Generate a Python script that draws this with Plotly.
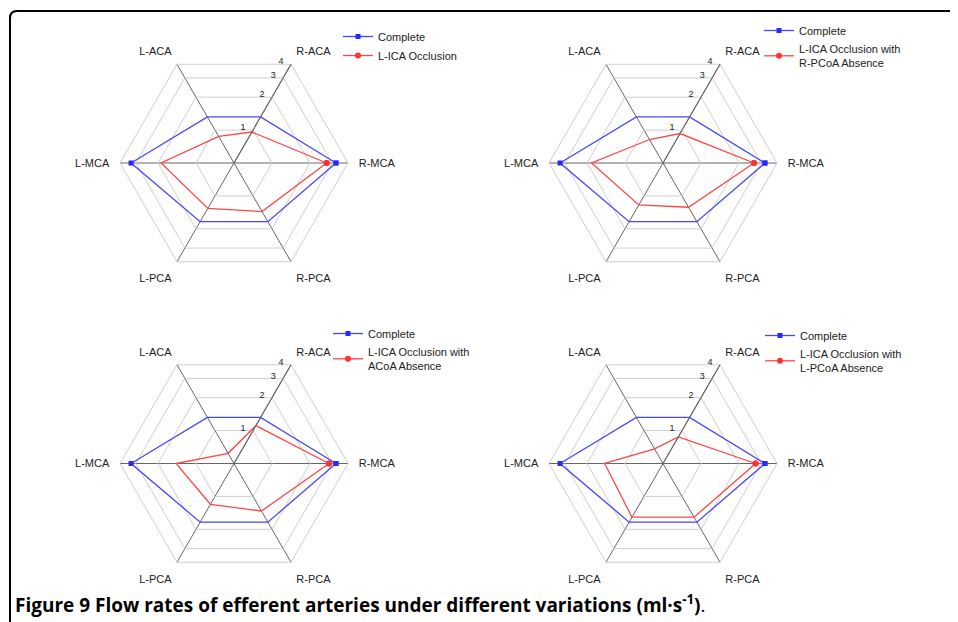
import numpy as np
import plotly.graph_objects as go

categories = ["R-MCA", "R-ACA", "L-ACA", "L-MCA", "L-PCA", "R-PCA"]
radial_ticks = [1, 2, 3, 4]

complete = [3.21, 1.32, 1.32, 3.27, 1.72, 1.72]
lica_occlusion = [2.71, 0.96, 0.875, 1.89, 1.30, 1.39]
lica_rpcoa = [2.63, 0.93, 0.82, 1.84, 1.21, 1.27]
lica_acoa = [2.83, 1.11, 0.62, 1.44, 1.18, 1.36]
lica_lpcoa = [2.71, 0.875, 0.68, 1.45, 1.55, 1.55]

variant_names = [
    "L-ICA Occlusion",
    "L-ICA Occlusion with<br>R-PCoA Absence",
    "L-ICA Occlusion with<br>ACoA Absence",
    "L-ICA Occlusion with<br>L-PCoA Absence",
]
variants = [lica_occlusion, lica_rpcoa, lica_acoa, lica_lpcoa]

# the page body has an 8px margin: size the figure so it fills the window
OFF = 8
W, H = 958 - OFF, 622 - OFF
BLUE = "rgb(70,70,255)"
RED = "rgb(255,70,70)"
FONT = "Liberation Sans, Arial, sans-serif"

# polar centres (window px) and radius
centres = [(234, 163), (663, 163), (234, 463.5), (663, 463.5)]
R = 114
legend_pos = [(338, 22), (759, 16), (328, 319), (760, 321)]

fig = go.Figure()

def closed(v):
    return list(v) + [v[0]]

def px(x):
    return (x - OFF) / W

def py(y):
    return 1 - (y - OFF) / H

for i in range(4):
    pname = "polar" if i == 0 else f"polar{i+1}"
    sub = pname
    lg = "legend" if i == 0 else f"legend{i+1}"
    fig.add_trace(go.Scatterpolar(
        r=closed(complete), theta=closed(categories), mode="lines+markers",
        name="Complete", subplot=sub, legend=lg,
        line=dict(color=BLUE, width=1.3),
        marker=dict(symbol="square", size=5, color="rgb(40,40,255)"),
    ))
    fig.add_trace(go.Scatterpolar(
        r=closed(variants[i]), theta=closed(categories), mode="lines+markers",
        name=variant_names[i], subplot=sub, legend=lg,
        line=dict(color=RED, width=1.3),
        marker=dict(symbol="circle", size=6, color="rgb(255,50,50)"),
    ))
    cx, cy = centres[i]
    fig.update_layout(**{pname: dict(
        domain=dict(x=[px(cx - R), px(cx + R)], y=[py(cy + R), py(cy - R)]),
        gridshape="linear",
        bgcolor="rgba(0,0,0,0)",
        radialaxis=dict(
            type="log", range=[np.log10(0.5), np.log10(4)],
            tickvals=radial_ticks, ticktext=[str(t) for t in radial_ticks],
            angle=60, tickangle=60, side="counterclockwise",
            showline=True, linecolor="#666", linewidth=1,
            gridcolor="#cfcfcf", gridwidth=1, ticks="",
            tickfont=dict(size=9, color="#222", family=FONT),
        ),
        angularaxis=dict(
            type="category", categoryorder="array", categoryarray=categories,
            direction="counterclockwise", rotation=0,
            showline=True, linecolor="#cfcfcf", linewidth=1,
            gridcolor="#666", gridwidth=1,
            ticks="outside", ticklen=8, tickcolor="rgba(0,0,0,0)",
            tickfont=dict(size=11, color="#222", family=FONT),
        ),
    )})
    lx, ly = legend_pos[i]
    fig.update_layout(**{lg: dict(
        x=px(lx), y=py(ly), xanchor="left", yanchor="top",
        bgcolor="rgba(0,0,0,0)", borderwidth=0,
        font=dict(size=11, color="#222", family=FONT),
        itemwidth=30, tracegroupgap=0,
    )})

# frame
x0, y0, rr = 10, 11, 7
fig.add_shape(type="path",
              path=(f"M {px(x0)},{py(622)} L {px(x0)},{py(y0 + rr)} "
                    f"Q {px(x0)},{py(y0)} {px(x0 + rr)},{py(y0)} L 1,{py(y0)}"),
              xref="paper", yref="paper", line=dict(color="black", width=2))

fig.add_annotation(
    text="<b>Figure 9 Flow rates of efferent arteries under different variations (ml·s<sup>-1</sup>)</b>.",
    x=px(13), y=py(604), xref="paper", yref="paper", xanchor="left", yanchor="middle",
    showarrow=False, font=dict(size=19, color="black", family="Open Sans, sans-serif"),
)

fig.update_layout(
    width=W, height=H, margin=dict(l=0, r=0, t=0, b=0, autoexpand=False),
    paper_bgcolor="white", plot_bgcolor="white", showlegend=True,
)
fig.write_html("out.html")
